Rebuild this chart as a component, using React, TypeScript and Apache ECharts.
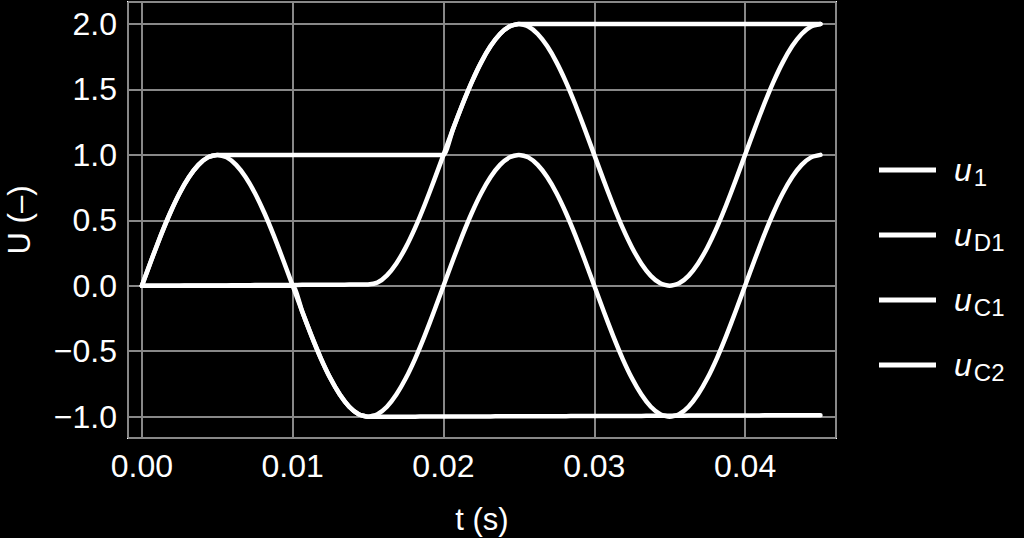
import React, { useEffect, useRef } from "react";
import * as echarts from "echarts";

// time samples (s), step 0.000625
const time: number[] = [
  0, 0.000625, 0.00125, 0.001875, 0.0025, 0.003125, 0.00375, 0.004375, 0.005, 0.005625, 0.00625, 0.006875,
  0.0075, 0.008125, 0.00875, 0.009375, 0.01, 0.010625, 0.01125, 0.011875, 0.0125, 0.013125, 0.01375, 0.014375,
  0.015, 0.015625, 0.01625, 0.016875, 0.0175, 0.018125, 0.01875, 0.019375, 0.02, 0.020625, 0.02125, 0.021875,
  0.0225, 0.023125, 0.02375, 0.024375, 0.025, 0.025625, 0.02625, 0.026875, 0.0275, 0.028125, 0.02875, 0.029375,
  0.03, 0.030625, 0.03125, 0.031875, 0.0325, 0.033125, 0.03375, 0.034375, 0.035, 0.035625, 0.03625, 0.036875,
  0.0375, 0.038125, 0.03875, 0.039375, 0.04, 0.040625, 0.04125, 0.041875, 0.0425, 0.043125, 0.04375, 0.044375,
  0.045,
];

const u1: number[] = [
  0, 0.195, 0.383, 0.556, 0.707, 0.831, 0.924, 0.981, 1, 0.981, 0.924, 0.831,
  0.707, 0.556, 0.383, 0.195, 0, -0.195, -0.383, -0.556, -0.707, -0.831, -0.924, -0.981,
  -1, -0.981, -0.924, -0.831, -0.707, -0.556, -0.383, -0.195, 0, 0.195, 0.383, 0.556,
  0.707, 0.831, 0.924, 0.981, 1, 0.981, 0.924, 0.831, 0.707, 0.556, 0.383, 0.195,
  0, -0.195, -0.383, -0.556, -0.707, -0.831, -0.924, -0.981, -1, -0.981, -0.924, -0.831,
  -0.707, -0.556, -0.383, -0.195, 0, 0.195, 0.383, 0.556, 0.707, 0.831, 0.924, 0.981,
  1,
];

const uD1: number[] = [
  0, 0, 0, 0.001, 0.001, 0.002, 0.002, 0.003, 0.003, 0.003, 0.004, 0.004,
  0.005, 0.005, 0.006, 0.006, 0.006, 0.007, 0.007, 0.008, 0.008, 0.008, 0.009, 0.009,
  0.01, 0.025, 0.08, 0.171, 0.293, 0.444, 0.617, 0.805, 1, 1.195, 1.383, 1.556,
  1.707, 1.831, 1.924, 1.981, 2, 1.981, 1.924, 1.831, 1.707, 1.556, 1.383, 1.195,
  1, 0.805, 0.617, 0.444, 0.293, 0.169, 0.076, 0.019, 0, 0.019, 0.076, 0.169,
  0.293, 0.444, 0.617, 0.805, 1, 1.195, 1.383, 1.556, 1.707, 1.831, 1.924, 1.981,
  2,
];

const uC1: number[] = [
  0, 0, 0, 0, 0, 0, 0, 0, 0, 0, 0, 0,
  0, 0, 0, 0, 0, -0.195, -0.383, -0.556, -0.707, -0.831, -0.924, -0.981,
  -1, -1, -1, -1, -1, -1, -0.999, -0.999, -0.999, -0.999, -0.998, -0.998,
  -0.998, -0.998, -0.997, -0.997, -0.997, -0.997, -0.996, -0.996, -0.996, -0.996, -0.995, -0.995,
  -0.995, -0.995, -0.994, -0.994, -0.994, -0.994, -0.993, -0.993, -0.993, -0.993, -0.992, -0.992,
  -0.992, -0.992, -0.991, -0.991, -0.991, -0.991, -0.99, -0.99, -0.99, -0.99, -0.99, -0.99,
  -0.99,
];

const uC2: number[] = [
  0, 0.195, 0.383, 0.556, 0.707, 0.831, 0.924, 0.981, 1, 1, 1, 1,
  1, 1, 1, 1, 1, 1, 1, 1, 1, 1, 1, 1,
  1, 1, 1, 1, 1, 1, 1, 1, 1, 1.195, 1.383, 1.556,
  1.707, 1.831, 1.924, 1.981, 2, 2, 2, 2, 2, 2, 2, 2,
  2, 2, 2, 2, 2, 2, 2, 2, 2, 2, 2, 2,
  2, 2, 2, 2, 2, 2, 2, 2, 2, 2, 2, 2,
  2,
];

const seriesNames: string[] = ["u1", "uD1", "uC1", "uC2"];
const seriesSubs: string[] = ["1", "D1", "C1", "C2"];
const seriesValues: number[][] = [u1, uD1, uC1, uC2];

const FONT = "'Liberation Sans', Arial, Helvetica, sans-serif";

export default function App() {
  const ref = useRef<HTMLDivElement>(null);

  useEffect(() => {
    document.body.style.margin = "0";
    document.body.style.background = "#000";
    const chart = echarts.init(ref.current!, null, { renderer: "svg" });

    const series = seriesValues.map((vals, i) => ({
      name: seriesNames[i],
      type: "line",
      data: time.map((t, k) => [t, vals[k]]),
      showSymbol: false,
      smooth: 0.2,
      lineStyle: { color: "#ffffff", width: 4.5, cap: "round", join: "round" },
      itemStyle: { color: "#ffffff" },
      emphasis: { disabled: true },
    }));

    const minus = (s: string) => s.replace("-", "\u2212");

    chart.setOption({
      animation: false,
      backgroundColor: "#000000",
      textStyle: { fontFamily: FONT },
      grid: {
        left: 128,
        right: 188,
        top: 2,
        bottom: 100,
        containLabel: false,
        outerBoundsMode: "none",
        show: true,
        borderColor: "#ffffff",
        borderWidth: 2,
        backgroundColor: "transparent",
      },
      xAxis: {
        type: "value",
        min: -0.00092,
        max: 0.04603,
        name: "t (s)",
        nameLocation: "middle",
        nameGap: 66,
        nameTextStyle: { color: "#ffffff", fontSize: 31, fontFamily: FONT },
        axisLine: { show: false },
        axisTick: { show: false },
        splitLine: { show: true, lineStyle: { color: "#888888", width: 2 } },
        axisLabel: {
          color: "#ffffff",
          fontSize: 32,
          fontFamily: FONT,
          margin: 12,
          showMinLabel: false,
          showMaxLabel: false,
          formatter: (v: number) => minus(v.toFixed(2)),
        },
      },
      yAxis: {
        type: "value",
        min: -1.163,
        max: 2.168,
        name: "U (–)",
        nameLocation: "middle",
        nameGap: 93,
        nameTextStyle: { color: "#ffffff", fontSize: 31, fontFamily: FONT },
        axisLine: { show: false },
        axisTick: { show: false },
        splitLine: { show: true, lineStyle: { color: "#888888", width: 2 } },
        axisLabel: {
          color: "#ffffff",
          fontSize: 32,
          fontFamily: FONT,
          margin: 11,
          showMinLabel: false,
          showMaxLabel: false,
          formatter: (v: number) => minus(v.toFixed(1)),
        },
      },
      legend: {
        orient: "vertical",
        left: 874,
        top: 149,
        itemGap: 30,
        itemWidth: 57,
        itemHeight: 5,
        icon: "rect",
        selectedMode: false,
        data: seriesNames,
        formatter: (name: string) => {
          const i = seriesNames.indexOf(name);
          return "{u|u}{s|" + seriesSubs[i] + "}";
        },
        textStyle: {
          color: "#ffffff",
          padding: [0, 0, 0, 13],
          rich: {
            u: {
              color: "#ffffff",
              fontFamily: FONT,
              fontSize: 32,
              fontStyle: "italic",
              lineHeight: 38,
              verticalAlign: "middle",
            },
            s: {
              color: "#ffffff",
              fontFamily: FONT,
              fontSize: 24,
              lineHeight: 24,
              verticalAlign: "bottom",
              padding: [0, 0, 0, 2],
            },
          },
        },
      },
      series,
    });

    return () => chart.dispose();
  }, []);

  return (
    <div
      ref={ref}
      style={{ position: "absolute", left: 0, top: 0, width: 1024, height: 538, background: "#000" }}
    />
  );
}
